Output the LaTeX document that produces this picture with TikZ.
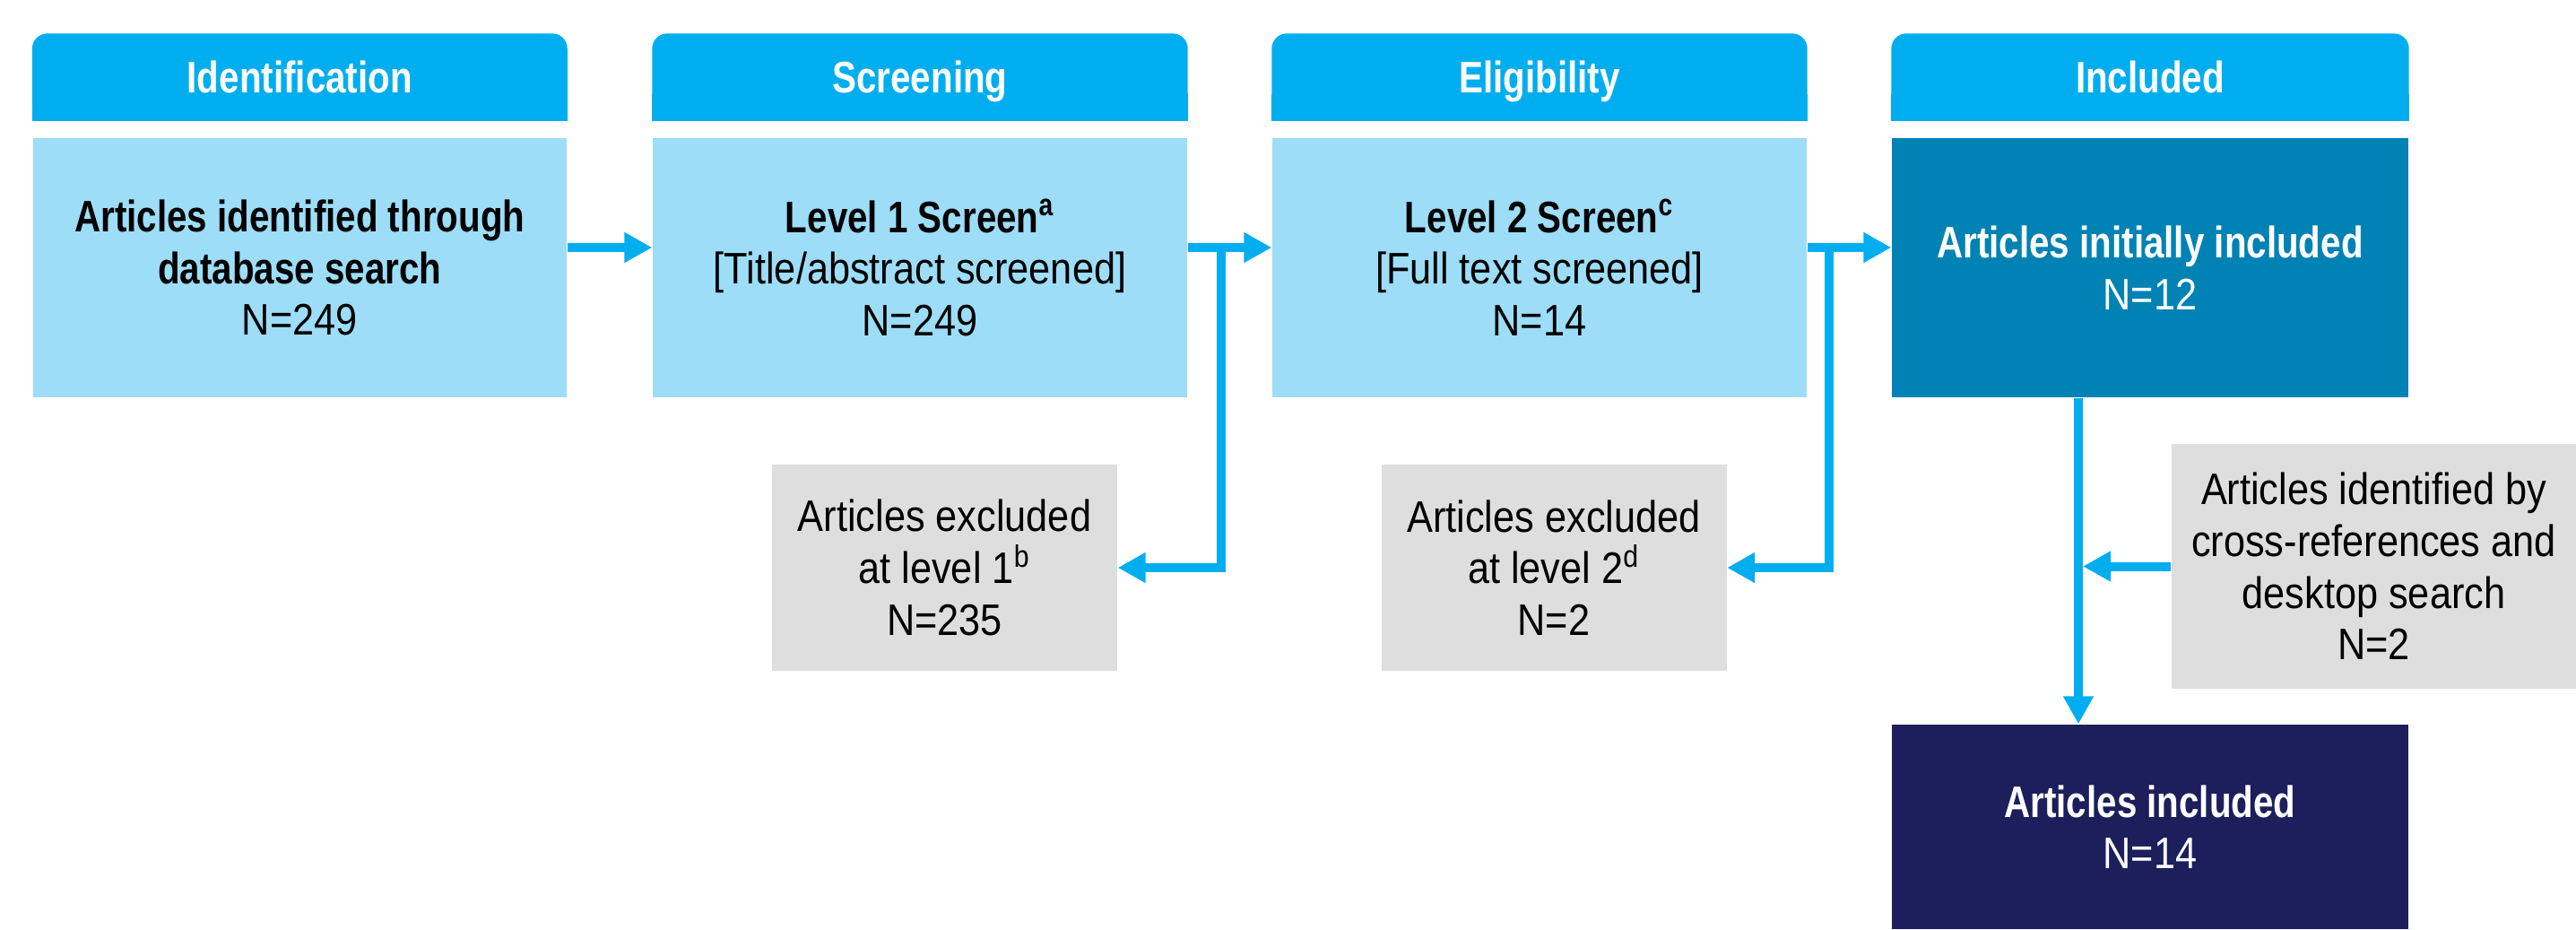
\documentclass[tikz,border=0pt]{standalone}
\usepackage{fontspec}
\setmainfont{Liberation Sans}[FakeStretch=0.88]
\newfontfamily\bdfont{Liberation Sans Bold}[FakeStretch=0.82]
\usetikzlibrary{arrows.meta}
\pgfdeclarelayer{bg}
\pgfsetlayers{bg,main}
\definecolor{hdblue}{HTML}{00AEEF}
\definecolor{lightblue}{HTML}{9DDDF7}
\definecolor{tealbox}{HTML}{0082B4}
\definecolor{navybox}{HTML}{1C1F5C}
\definecolor{greybox}{HTML}{DEDEDE}
\tikzset{
	flowbox/.style={inner sep=0pt, align=center, font=\fontsize{14}{16.4}\selectfont},
	hdr/.style={flowbox, text=white, text height=0.34cm, text depth=0cm, minimum height=0.96cm, font=\fontsize{14}{16.4}\selectfont\bdfont},
	stage/.style={flowbox, fill=lightblue, minimum height=2.89cm},
	excl/.style={flowbox, fill=greybox, minimum width=3.85cm, minimum height=2.3cm},
	flow/.style={hdblue, line width=0.1cm, -{Triangle[length=0.31cm,width=0.32cm]}}
}

\begin{document}
\begin{tikzpicture}
	\useasboundingbox (0,0) rectangle (28.73,-10.36);
	% stage headers
	\node[hdr, minimum width=5.955cm] (hid) at (3.343,-0.86) {Identification};
	\node[hdr, minimum width=5.96cm] (hscr) at (10.26,-0.86) {Screening};
	\node[hdr, minimum width=5.96cm] (hel) at (17.17,-0.86) {Eligibility};
	\node[hdr, minimum width=5.76cm] (hinc) at (23.98,-0.86) {Included};
	\begin{pgfonlayer}{bg}
		\foreach \h in {hid,hscr,hel,hinc} {
			\fill[hdblue, rounded corners=0.17cm] (\h.south west) rectangle (\h.north east);
			\fill[hdblue] (\h.south west) rectangle ([yshift=0.3cm]\h.south east);
		}
	\end{pgfonlayer}
	% main row
	\node[stage, minimum width=5.955cm] (id) at (3.343,-2.985) {{\bdfont Articles identified through}\\{\bdfont database search}\\N=249};
	\node[stage, minimum width=5.96cm] (scr1) at (10.26,-2.985) {{\bdfont Level 1 Screen\textsuperscript{a}}\\{[}Title/abstract screened]\\N=249};
	\node[stage, minimum width=5.96cm] (scr2) at (17.17,-2.985) {{\bdfont Level 2 Screen\textsuperscript{c}}\\{[}Full text screened]\\N=14};
	\node[stage, fill=tealbox, text=white, minimum width=5.76cm] (incl) at (23.98,-2.985) {{\bdfont Articles initially included}\\N=12};
	% side boxes
	\node[excl] (exc1) at (10.535,-6.33) {Articles excluded\\at level 1\textsuperscript{b}\\N=235};
	\node[excl] (exc2) at (17.33,-6.33) {Articles excluded\\at level 2\textsuperscript{d}\\N=2};
	\node[excl, minimum width=4.51cm, minimum height=2.73cm] (xref) at (26.475,-6.315) {Articles identified by\\cross-references and\\desktop search\\N=2};
	\node[flowbox, fill=navybox, text=white, minimum width=5.76cm, minimum height=2.28cm] (final) at (23.98,-9.22) {{\bdfont Articles included}\\N=14};
	% arrows
	\draw[flow] ([yshift=0.225cm]id.east) -- ([yshift=0.225cm]scr1.west);
	\draw[flow] ([yshift=0.225cm]scr1.east) -- ([yshift=0.225cm]scr2.west);
	\draw[flow] ([yshift=0.225cm]scr2.east) -- ([yshift=0.225cm]incl.west);
	\coordinate (j1) at ([xshift=0.37cm,yshift=0.225cm]scr1.east);
	\coordinate (j2) at ([xshift=0.24cm,yshift=0.225cm]scr2.east);
	\draw[flow] (j1) |- (exc1.east);
	\draw[flow] (j2) |- (exc2.east);
	\coordinate (j3) at ([xshift=-0.8cm]incl.south);
	\draw[flow] (j3) -- (j3 |- final.north);
	\draw[flow] (xref.west) -- ([xshift=0.05cm]xref.west -| j3);
\end{tikzpicture}
\end{document}
